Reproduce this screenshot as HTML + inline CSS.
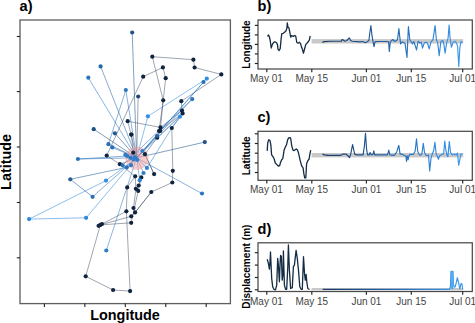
<!DOCTYPE html><html><head><meta charset="utf-8"><style>html,body{margin:0;padding:0;background:#fff;overflow:hidden}svg{display:block}text{font-family:"Liberation Sans",sans-serif}</style></head><body><svg width="475" height="323" viewBox="0 0 475 323">
<rect width="475" height="323" fill="#fff"/>
<line x1="152.3" y1="56.7" x2="193.4" y2="59.7" stroke="#2a3a55" stroke-opacity="0.5" stroke-width="0.9"/>
<line x1="193.4" y1="59.7" x2="194.6" y2="67.5" stroke="#2a3a55" stroke-opacity="0.5" stroke-width="0.9"/>
<line x1="194.6" y1="67.5" x2="221.3" y2="74.4" stroke="#2a3a55" stroke-opacity="0.5" stroke-width="0.9"/>
<line x1="221.3" y1="74.4" x2="181.3" y2="101.2" stroke="#2a3a55" stroke-opacity="0.5" stroke-width="0.9"/>
<line x1="152.3" y1="56.7" x2="163.2" y2="100.3" stroke="#2a3a55" stroke-opacity="0.5" stroke-width="0.9"/>
<line x1="143.2" y1="76.7" x2="162.9" y2="67.4" stroke="#2a3a55" stroke-opacity="0.5" stroke-width="0.9"/>
<line x1="162.9" y1="67.4" x2="165.7" y2="78.2" stroke="#2a3a55" stroke-opacity="0.5" stroke-width="0.9"/>
<line x1="165.7" y1="78.2" x2="163.2" y2="100.3" stroke="#2a3a55" stroke-opacity="0.5" stroke-width="0.9"/>
<line x1="143.2" y1="76.7" x2="106.7" y2="155.6" stroke="#2a3a55" stroke-opacity="0.5" stroke-width="0.9"/>
<line x1="163.2" y1="100.3" x2="160.5" y2="127.4" stroke="#2a3a55" stroke-opacity="0.5" stroke-width="0.9"/>
<line x1="163.2" y1="100.3" x2="159.0" y2="131.0" stroke="#2a3a55" stroke-opacity="0.5" stroke-width="0.9"/>
<line x1="181.3" y1="101.2" x2="182.0" y2="110.6" stroke="#2a3a55" stroke-opacity="0.5" stroke-width="0.9"/>
<line x1="182.0" y1="110.6" x2="160.5" y2="127.4" stroke="#2a3a55" stroke-opacity="0.5" stroke-width="0.9"/>
<line x1="182.6" y1="113.4" x2="159.0" y2="131.0" stroke="#2a3a55" stroke-opacity="0.5" stroke-width="0.9"/>
<line x1="182.6" y1="113.4" x2="157.2" y2="137.7" stroke="#2a3a55" stroke-opacity="0.5" stroke-width="0.9"/>
<line x1="138.2" y1="96.5" x2="136.7" y2="157.8" stroke="#2a3a55" stroke-opacity="0.5" stroke-width="0.9"/>
<line x1="127.7" y1="121.2" x2="131.2" y2="134.6" stroke="#2a3a55" stroke-opacity="0.5" stroke-width="0.9"/>
<line x1="131.2" y1="134.6" x2="136.7" y2="157.8" stroke="#2a3a55" stroke-opacity="0.5" stroke-width="0.9"/>
<line x1="160.2" y1="130.9" x2="157.2" y2="137.7" stroke="#2a3a55" stroke-opacity="0.5" stroke-width="0.9"/>
<line x1="171.8" y1="128.0" x2="172.8" y2="170.8" stroke="#2a3a55" stroke-opacity="0.5" stroke-width="0.9"/>
<line x1="171.8" y1="128.0" x2="182.6" y2="113.4" stroke="#2a3a55" stroke-opacity="0.5" stroke-width="0.9"/>
<line x1="127.7" y1="121.2" x2="160.5" y2="127.4" stroke="#2a3a55" stroke-opacity="0.5" stroke-width="0.9"/>
<line x1="172.8" y1="170.8" x2="172.3" y2="182.5" stroke="#2a3a55" stroke-opacity="0.5" stroke-width="0.9"/>
<line x1="172.3" y1="182.5" x2="151.3" y2="192.0" stroke="#2a3a55" stroke-opacity="0.5" stroke-width="0.9"/>
<line x1="151.3" y1="192.0" x2="135.1" y2="212.4" stroke="#2a3a55" stroke-opacity="0.5" stroke-width="0.9"/>
<line x1="154.1" y1="174.1" x2="144.9" y2="154.2" stroke="#2a3a55" stroke-opacity="0.5" stroke-width="0.9"/>
<line x1="135.2" y1="176.3" x2="135.9" y2="188.8" stroke="#2a3a55" stroke-opacity="0.5" stroke-width="0.9"/>
<line x1="141.3" y1="177.4" x2="138.2" y2="190.9" stroke="#2a3a55" stroke-opacity="0.5" stroke-width="0.9"/>
<line x1="138.7" y1="185.5" x2="141.3" y2="177.4" stroke="#2a3a55" stroke-opacity="0.5" stroke-width="0.9"/>
<line x1="127.2" y1="187.4" x2="135.2" y2="176.3" stroke="#2a3a55" stroke-opacity="0.5" stroke-width="0.9"/>
<line x1="119.9" y1="164.2" x2="106.7" y2="155.6" stroke="#2a3a55" stroke-opacity="0.5" stroke-width="0.9"/>
<line x1="119.9" y1="164.2" x2="135.2" y2="176.3" stroke="#2a3a55" stroke-opacity="0.5" stroke-width="0.9"/>
<line x1="119.9" y1="164.2" x2="136.7" y2="157.8" stroke="#2a3a55" stroke-opacity="0.5" stroke-width="0.9"/>
<line x1="133.5" y1="208.0" x2="135.9" y2="188.8" stroke="#2a3a55" stroke-opacity="0.5" stroke-width="0.9"/>
<line x1="126.4" y1="211.3" x2="100.4" y2="224.9" stroke="#2a3a55" stroke-opacity="0.5" stroke-width="0.9"/>
<line x1="131.2" y1="216.3" x2="100.4" y2="224.9" stroke="#2a3a55" stroke-opacity="0.5" stroke-width="0.9"/>
<line x1="131.2" y1="222.8" x2="100.4" y2="224.9" stroke="#2a3a55" stroke-opacity="0.5" stroke-width="0.9"/>
<line x1="100.4" y1="224.9" x2="85.7" y2="276.3" stroke="#2a3a55" stroke-opacity="0.5" stroke-width="0.9"/>
<line x1="85.7" y1="276.3" x2="113.1" y2="290.0" stroke="#2a3a55" stroke-opacity="0.5" stroke-width="0.9"/>
<line x1="113.1" y1="290.0" x2="130.1" y2="291.1" stroke="#2a3a55" stroke-opacity="0.5" stroke-width="0.9"/>
<line x1="130.1" y1="291.1" x2="126.4" y2="211.3" stroke="#2a3a55" stroke-opacity="0.5" stroke-width="0.9"/>
<line x1="133.5" y1="208.0" x2="135.1" y2="212.4" stroke="#2a3a55" stroke-opacity="0.5" stroke-width="0.9"/>
<line x1="135.1" y1="212.4" x2="131.2" y2="216.3" stroke="#2a3a55" stroke-opacity="0.5" stroke-width="0.9"/>
<line x1="127.2" y1="187.4" x2="126.4" y2="211.3" stroke="#2a3a55" stroke-opacity="0.5" stroke-width="0.9"/>
<line x1="131.4" y1="134.6" x2="133.2" y2="152.7" stroke="#2a3a55" stroke-opacity="0.5" stroke-width="0.9"/>
<line x1="144.9" y1="154.2" x2="154.1" y2="174.1" stroke="#2a3a55" stroke-opacity="0.5" stroke-width="0.9"/>
<line x1="157.2" y1="137.7" x2="144.9" y2="154.2" stroke="#2a3a55" stroke-opacity="0.5" stroke-width="0.9"/>
<line x1="135.1" y1="212.4" x2="151.3" y2="192.0" stroke="#2a3a55" stroke-opacity="0.5" stroke-width="0.9"/>
<line x1="138.2" y1="190.9" x2="131.2" y2="222.8" stroke="#2a3a55" stroke-opacity="0.5" stroke-width="0.9"/>
<line x1="132.2" y1="32.5" x2="136.7" y2="157.8" stroke="#215389" stroke-opacity="0.62" stroke-width="0.9"/>
<line x1="100.6" y1="66.4" x2="136.7" y2="157.8" stroke="#2767a7" stroke-opacity="0.62" stroke-width="0.9"/>
<line x1="88.3" y1="77.7" x2="136.7" y2="157.8" stroke="#2b76bf" stroke-opacity="0.62" stroke-width="0.9"/>
<line x1="125.8" y1="90.0" x2="136.7" y2="157.8" stroke="#2b76bf" stroke-opacity="0.62" stroke-width="0.9"/>
<line x1="125.8" y1="90.0" x2="108.4" y2="144.2" stroke="#2b76bf" stroke-opacity="0.62" stroke-width="0.9"/>
<line x1="147.9" y1="116.3" x2="136.7" y2="157.8" stroke="#328ee4" stroke-opacity="0.62" stroke-width="0.9"/>
<line x1="93.7" y1="129.2" x2="136.7" y2="157.8" stroke="#1f4e81" stroke-opacity="0.62" stroke-width="0.9"/>
<line x1="114.9" y1="133.3" x2="136.7" y2="157.8" stroke="#235992" stroke-opacity="0.62" stroke-width="0.9"/>
<line x1="147.9" y1="116.3" x2="206.8" y2="78.6" stroke="#328ee4" stroke-opacity="0.62" stroke-width="0.9"/>
<line x1="206.8" y1="78.6" x2="136.7" y2="157.8" stroke="#328ee4" stroke-opacity="0.62" stroke-width="0.9"/>
<line x1="203.5" y1="82.0" x2="136.7" y2="157.8" stroke="#2a70b6" stroke-opacity="0.62" stroke-width="0.9"/>
<line x1="192.2" y1="99.1" x2="136.7" y2="157.8" stroke="#2b76bf" stroke-opacity="0.62" stroke-width="0.9"/>
<line x1="192.2" y1="99.1" x2="122.6" y2="165.3" stroke="#2b76bf" stroke-opacity="0.62" stroke-width="0.9"/>
<line x1="179.9" y1="116.7" x2="136.7" y2="157.8" stroke="#328ee4" stroke-opacity="0.62" stroke-width="0.9"/>
<line x1="204.8" y1="142.1" x2="136.7" y2="157.8" stroke="#215389" stroke-opacity="0.62" stroke-width="0.9"/>
<line x1="77.9" y1="159.0" x2="136.7" y2="157.8" stroke="#2a70b6" stroke-opacity="0.62" stroke-width="0.9"/>
<line x1="77.9" y1="159.0" x2="127.4" y2="156.0" stroke="#2a70b6" stroke-opacity="0.62" stroke-width="0.9"/>
<line x1="70.3" y1="179.3" x2="126.8" y2="167.3" stroke="#245f9b" stroke-opacity="0.62" stroke-width="0.9"/>
<line x1="70.3" y1="179.3" x2="92.6" y2="196.8" stroke="#245f9b" stroke-opacity="0.62" stroke-width="0.9"/>
<line x1="92.6" y1="196.8" x2="136.7" y2="157.8" stroke="#2a70b6" stroke-opacity="0.62" stroke-width="0.9"/>
<line x1="29.1" y1="219.1" x2="86.1" y2="217.8" stroke="#3188db" stroke-opacity="0.62" stroke-width="0.9"/>
<line x1="29.1" y1="219.1" x2="106.0" y2="180.6" stroke="#3188db" stroke-opacity="0.62" stroke-width="0.9"/>
<line x1="106.0" y1="180.6" x2="136.7" y2="157.8" stroke="#328ee4" stroke-opacity="0.62" stroke-width="0.9"/>
<line x1="86.1" y1="217.8" x2="136.7" y2="157.8" stroke="#3188db" stroke-opacity="0.62" stroke-width="0.9"/>
<line x1="106.3" y1="250.5" x2="136.7" y2="157.8" stroke="#2d7cc8" stroke-opacity="0.62" stroke-width="0.9"/>
<line x1="202.0" y1="193.5" x2="136.7" y2="157.8" stroke="#2b76bf" stroke-opacity="0.62" stroke-width="0.9"/>
<line x1="112.3" y1="147.4" x2="136.7" y2="157.8" stroke="#2a70b6" stroke-opacity="0.62" stroke-width="0.9"/>
<line x1="108.4" y1="144.2" x2="136.7" y2="157.8" stroke="#2a70b6" stroke-opacity="0.62" stroke-width="0.9"/>
<line x1="143.5" y1="173.0" x2="136.7" y2="157.8" stroke="#2d7cc8" stroke-opacity="0.62" stroke-width="0.9"/>
<line x1="146.9" y1="167.9" x2="136.7" y2="157.8" stroke="#2f82d2" stroke-opacity="0.62" stroke-width="0.9"/>
<line x1="139.7" y1="180.2" x2="136.7" y2="157.8" stroke="#2f82d2" stroke-opacity="0.62" stroke-width="0.9"/>
<line x1="142.4" y1="151.0" x2="136.7" y2="157.8" stroke="#2f82d2" stroke-opacity="0.62" stroke-width="0.9"/>
<line x1="157.0" y1="136.0" x2="136.7" y2="157.8" stroke="#2664a4" stroke-opacity="0.62" stroke-width="0.9"/>
<line x1="179.9" y1="116.7" x2="171.8" y2="128.0" stroke="#328ee4" stroke-opacity="0.62" stroke-width="0.9"/>
<line x1="146.9" y1="167.9" x2="171.8" y2="128.0" stroke="#2f82d2" stroke-opacity="0.62" stroke-width="0.9"/>
<circle cx="136.9" cy="158.2" r="11.6" fill="#f09a9a" fill-opacity="0.5"/>
<circle cx="152.3" cy="56.7" r="2.1" fill="#102440"/>
<circle cx="193.4" cy="59.7" r="2.1" fill="#102440"/>
<circle cx="194.6" cy="67.5" r="2.1" fill="#102440"/>
<circle cx="221.3" cy="74.4" r="2.1" fill="#102440"/>
<circle cx="162.9" cy="67.4" r="2.1" fill="#102440"/>
<circle cx="143.2" cy="76.7" r="2.1" fill="#102440"/>
<circle cx="165.7" cy="78.2" r="2.1" fill="#102440"/>
<circle cx="163.2" cy="100.3" r="2.1" fill="#102440"/>
<circle cx="181.3" cy="101.2" r="2.1" fill="#102440"/>
<circle cx="182.0" cy="110.6" r="2.1" fill="#102440"/>
<circle cx="182.6" cy="113.4" r="2.1" fill="#102440"/>
<circle cx="127.7" cy="121.2" r="2.1" fill="#102440"/>
<circle cx="131.2" cy="134.6" r="2.1" fill="#102440"/>
<circle cx="160.5" cy="127.4" r="2.1" fill="#102440"/>
<circle cx="159.0" cy="131.0" r="2.1" fill="#102440"/>
<circle cx="171.8" cy="128.0" r="2.1" fill="#102440"/>
<circle cx="157.2" cy="137.7" r="2.1" fill="#102440"/>
<circle cx="106.7" cy="155.6" r="2.1" fill="#102440"/>
<circle cx="119.9" cy="164.2" r="2.1" fill="#102440"/>
<circle cx="133.2" cy="152.7" r="2.1" fill="#102440"/>
<circle cx="144.9" cy="154.2" r="2.1" fill="#102440"/>
<circle cx="135.2" cy="176.3" r="2.1" fill="#102440"/>
<circle cx="141.3" cy="177.4" r="2.1" fill="#102440"/>
<circle cx="154.1" cy="174.1" r="2.1" fill="#102440"/>
<circle cx="172.8" cy="170.8" r="2.1" fill="#102440"/>
<circle cx="172.3" cy="182.5" r="2.1" fill="#102440"/>
<circle cx="151.3" cy="192.0" r="2.1" fill="#102440"/>
<circle cx="127.2" cy="187.4" r="2.1" fill="#102440"/>
<circle cx="135.9" cy="188.8" r="2.1" fill="#102440"/>
<circle cx="138.2" cy="190.9" r="2.1" fill="#102440"/>
<circle cx="138.7" cy="185.5" r="2.1" fill="#102440"/>
<circle cx="133.5" cy="208.0" r="2.1" fill="#102440"/>
<circle cx="126.4" cy="211.3" r="2.1" fill="#102440"/>
<circle cx="135.1" cy="212.4" r="2.1" fill="#102440"/>
<circle cx="131.2" cy="216.3" r="2.1" fill="#102440"/>
<circle cx="131.2" cy="222.8" r="2.1" fill="#102440"/>
<circle cx="100.4" cy="224.9" r="2.1" fill="#102440"/>
<circle cx="98.6" cy="225.8" r="2.1" fill="#102440"/>
<circle cx="102.0" cy="224.0" r="2.1" fill="#102440"/>
<circle cx="85.7" cy="276.3" r="2.1" fill="#102440"/>
<circle cx="113.1" cy="290.0" r="2.1" fill="#102440"/>
<circle cx="130.1" cy="291.1" r="2.1" fill="#102440"/>
<circle cx="160.2" cy="130.9" r="2.1" fill="#102440"/>
<circle cx="131.4" cy="134.6" r="2.1" fill="#102440"/>
<circle cx="132.2" cy="32.5" r="2.1" fill="#215389"/>
<circle cx="138.2" cy="96.5" r="2.1" fill="#1d4878"/>
<circle cx="100.6" cy="66.4" r="2.1" fill="#2767a7"/>
<circle cx="88.3" cy="77.7" r="2.1" fill="#2b76bf"/>
<circle cx="125.8" cy="90.0" r="2.1" fill="#2b76bf"/>
<circle cx="147.9" cy="116.3" r="2.1" fill="#328ee4"/>
<circle cx="93.7" cy="129.2" r="2.1" fill="#1f4e81"/>
<circle cx="114.9" cy="133.3" r="2.1" fill="#235992"/>
<circle cx="108.4" cy="144.2" r="2.1" fill="#2a70b6"/>
<circle cx="112.3" cy="147.4" r="2.1" fill="#2a70b6"/>
<circle cx="206.8" cy="78.6" r="2.1" fill="#328ee4"/>
<circle cx="203.5" cy="82.0" r="2.1" fill="#2a70b6"/>
<circle cx="192.2" cy="99.1" r="2.1" fill="#2b76bf"/>
<circle cx="179.9" cy="116.7" r="2.1" fill="#328ee4"/>
<circle cx="204.8" cy="142.1" r="2.1" fill="#215389"/>
<circle cx="77.9" cy="159.0" r="2.1" fill="#2a70b6"/>
<circle cx="70.3" cy="179.3" r="2.1" fill="#245f9b"/>
<circle cx="106.0" cy="180.6" r="2.1" fill="#328ee4"/>
<circle cx="92.6" cy="196.8" r="2.1" fill="#2a70b6"/>
<circle cx="29.1" cy="219.1" r="2.1" fill="#3188db"/>
<circle cx="86.1" cy="217.8" r="2.1" fill="#3188db"/>
<circle cx="106.3" cy="250.5" r="2.1" fill="#2d7cc8"/>
<circle cx="202.0" cy="193.5" r="2.1" fill="#2b76bf"/>
<circle cx="127.4" cy="156.0" r="2.1" fill="#2d7cc8"/>
<circle cx="134.8" cy="157.3" r="2.1" fill="#2d7cc8"/>
<circle cx="142.4" cy="151.0" r="2.1" fill="#2f82d2"/>
<circle cx="126.8" cy="167.3" r="2.1" fill="#2a70b6"/>
<circle cx="131.0" cy="165.2" r="2.1" fill="#2d7cc8"/>
<circle cx="143.5" cy="173.0" r="2.1" fill="#2d7cc8"/>
<circle cx="146.9" cy="167.9" r="2.1" fill="#2f82d2"/>
<circle cx="139.7" cy="180.2" r="2.1" fill="#2f82d2"/>
<circle cx="122.6" cy="165.3" r="2.1" fill="#2a70b6"/>
<circle cx="130.5" cy="157.8" r="2.1" fill="#2b76bf"/>
<circle cx="137.2" cy="159.8" r="2.1" fill="#2d7cc8"/>
<circle cx="125.3" cy="154.8" r="2.1" fill="#2d7cc8"/>
<circle cx="133.5" cy="159.5" r="2.1" fill="#2f82d2"/>
<circle cx="157.0" cy="136.0" r="2.1" fill="#2664a4"/>
<rect x="20.0" y="20.0" width="210.4" height="283.6" fill="none" stroke="#5e5e5e" stroke-width="1.3"/>
<line x1="16.8" y1="36.5" x2="20.0" y2="36.5" stroke="#222" stroke-width="1.1"/>
<line x1="16.8" y1="91.6" x2="20.0" y2="91.6" stroke="#222" stroke-width="1.1"/>
<line x1="16.8" y1="147.0" x2="20.0" y2="147.0" stroke="#222" stroke-width="1.1"/>
<line x1="16.8" y1="202.5" x2="20.0" y2="202.5" stroke="#222" stroke-width="1.1"/>
<line x1="16.8" y1="257.8" x2="20.0" y2="257.8" stroke="#222" stroke-width="1.1"/>
<line x1="44.4" y1="303.6" x2="44.4" y2="307" stroke="#222" stroke-width="1.1"/>
<line x1="84.85" y1="303.6" x2="84.85" y2="307" stroke="#222" stroke-width="1.1"/>
<line x1="125.3" y1="303.6" x2="125.3" y2="307" stroke="#222" stroke-width="1.1"/>
<line x1="165.75" y1="303.6" x2="165.75" y2="307" stroke="#222" stroke-width="1.1"/>
<line x1="206.2" y1="303.6" x2="206.2" y2="307" stroke="#222" stroke-width="1.1"/>
<text x="19.6" y="10.9" font-family="Liberation Sans" font-weight="bold" font-size="14.6" fill="#000">a)</text>
<text x="125" y="319.5" text-anchor="middle" font-family="Liberation Sans" font-weight="bold" font-size="14.4" fill="#000">Longitude</text>
<text transform="translate(10.9,161.9) rotate(-90)" text-anchor="middle" font-family="Liberation Sans" font-weight="bold" font-size="14.4" fill="#000">Latitude</text>
<defs><linearGradient id="g" gradientUnits="userSpaceOnUse" x1="266" y1="0" x2="463" y2="0"><stop offset="0" stop-color="#132B43"/><stop offset="0.3" stop-color="#183a66"/><stop offset="0.6" stop-color="#2361a6"/><stop offset="0.8" stop-color="#2e80d2"/><stop offset="1" stop-color="#3a98ee"/></linearGradient></defs>
<rect x="311.6" y="39.1" width="151.6" height="4.4" fill="#c8c8c8"/>
<polyline points="267.5,36.4 268.5,35 269.5,37.1 270.2,40.5 271.2,48 272.3,44.6 273.6,42.3 275,41.9 276.4,42.5 277.5,44.6 278,49.4 279.1,50.5 280.2,48.7 281.1,39.1 281.8,33.7 283.2,33.3 284.5,32.3 285.9,31 286.9,28.2 287.3,22.8 288,27.3 288.9,27.8 289.7,31.6 290.7,37.1 291.6,35.7 293.4,36.4 294.8,35.5 295.7,36 296.8,42.5 298.2,43.2 299.5,42.3 300.6,43.6 301.6,47.3 302.5,49.6 303.4,53.2 304.3,50 305.7,44.6 307,43.2 308.4,41.5 309.4,39.8 310.2,36" fill="none" stroke="#132B43" stroke-width="1.3" stroke-linejoin="round"/>
<polyline points="322.3,42.5 324,41.6 330,41.3 341.4,41.2 342,39.5 343.4,40.1 344.8,41.2 346.8,40.5 349.3,37.8 350.6,40.5 352.3,41.2 360,41.9 362.7,41.5 365.2,42.8 366.8,41.9 368.9,40.5 369.8,33 370.9,25.5 372,35.7 373,41.5 374,46.6 375,41.9 377.7,41.5 387.3,41.5 388.6,41.9 389.3,51.4 390.3,41.9 392.7,39.5 394.8,41.5 397.5,39.8 398.9,28.6 399.8,37.1 400.6,43.9 402.3,41.9 405,43.2 407,57.5 407.7,41.9 408.4,26.5 409.8,39.8 412.5,43.9 413.9,41.5 416.6,50 418,41.5 418.5,41.4 419.7,43.1 421.4,42.2 422.5,48.1 424.2,43.1 425.9,42.2 427.5,43.1 429.2,48.9 430.9,42.2 433,39.7 434.2,31.4 435.1,25.5 436.4,39.7 437.6,42.2 439.2,55.6 440.9,41.4 442.6,40.6 443.7,43.1 445.1,53.1 446.8,42.2 448.1,38.1 449.1,25 450.1,38.1 451.4,47.2 453.1,42.2 455.1,41.4 456.5,43.1 457.6,46.4 458.8,66.5 459.8,48.1 461,41.4 462.6,42.7" fill="none" stroke="url(#g)" stroke-width="1.15" stroke-linejoin="round"/>
<rect x="258.0" y="20.0" width="214.3" height="49.0" fill="none" stroke="#4a4a4a" stroke-width="1.25"/>
<line x1="254.8" y1="25.4" x2="258" y2="25.4" stroke="#222" stroke-width="1.15"/>
<line x1="254.8" y1="34.9" x2="258" y2="34.9" stroke="#222" stroke-width="1.15"/>
<line x1="254.8" y1="44.4" x2="258" y2="44.4" stroke="#222" stroke-width="1.15"/>
<line x1="254.8" y1="53.9" x2="258" y2="53.9" stroke="#222" stroke-width="1.15"/>
<line x1="254.8" y1="63.5" x2="258" y2="63.5" stroke="#222" stroke-width="1.15"/>
<line x1="266.8" y1="69.0" x2="266.8" y2="72.3" stroke="#222" stroke-width="1.15"/>
<line x1="311.8" y1="69.0" x2="311.8" y2="72.3" stroke="#222" stroke-width="1.15"/>
<line x1="366.4" y1="69.0" x2="366.4" y2="72.3" stroke="#222" stroke-width="1.15"/>
<line x1="411.3" y1="69.0" x2="411.3" y2="72.3" stroke="#222" stroke-width="1.15"/>
<line x1="462.7" y1="69.0" x2="462.7" y2="72.3" stroke="#222" stroke-width="1.15"/>
<text x="266.4" y="82.1" text-anchor="middle" font-family="Liberation Sans" font-size="10" fill="#444">May 01</text>
<text x="311.8" y="82.1" text-anchor="middle" font-family="Liberation Sans" font-size="10" fill="#444">May 15</text>
<text x="366.4" y="82.1" text-anchor="middle" font-family="Liberation Sans" font-size="10" fill="#444">Jun 01</text>
<text x="411.3" y="82.1" text-anchor="middle" font-family="Liberation Sans" font-size="10" fill="#444">Jun 15</text>
<text x="462.7" y="82.1" text-anchor="middle" font-family="Liberation Sans" font-size="10" fill="#444">Jul 01</text>
<text x="257.5" y="10.8" font-family="Liberation Sans" font-weight="bold" font-size="14.6" fill="#000">b)</text>
<text transform="translate(250.4,44.5) rotate(-90)" text-anchor="middle" font-family="Liberation Sans" font-weight="bold" font-size="10" fill="#000">Longitude</text>
<rect x="311.6" y="153.0" width="151.6" height="4.4" fill="#c8c8c8"/>
<polyline points="267.2,150.9 267.7,142.9 268.8,139.7 270,140.5 270.9,145.3 271.6,154.9 272.9,156.5 274.2,159 275.3,163 276.9,164.6 278.5,166.2 279.6,165.7 280.6,162.2 281.7,159.8 282.8,158.6 284.1,150.1 285.4,146.9 286.5,144.8 287.7,139.7 289,137.7 290.6,138 291.8,146.1 293,150.1 294.1,150.6 296.2,149 297.5,150.1 298.6,153.3 300.2,160.6 301.8,166.2 303.1,167.8 303.8,173.4 304.7,177.9 305.8,177.9 306.6,163.8 307.9,160.6 309.1,159 309.9,154.1 310.7,150.1" fill="none" stroke="#132B43" stroke-width="1.3" stroke-linejoin="round"/>
<polyline points="322.5,154.1 324.5,154.9 327.7,155.4 340.6,155.4 343,154.1 346.2,154.1 348.6,156.5 349.4,157.7 350.5,154.9 351.5,150.1 352.6,144.5 353.8,150.1 354.7,154.1 356.6,154.9 363.1,154.9 364.4,146.1 365.5,133.2 366.6,149.3 367.6,154.9 369,154.9 370.1,152.5 371.1,154.9 373,154.4 373.8,150.9 374.7,154.9 387.5,154.9 388.8,150.1 389.9,154.9 393.1,155.4 394.8,154.9 396.8,151.7 398.8,145.3 400.1,154.1 402,154.1 404.4,155.4 406,156.5 406.5,161.4 407.1,155.7 408.1,159.8 408.8,156.1 410,154.4 413.3,154.4 415.2,150.9 416.5,138.8 417.8,151.7 418.9,154.1 420.2,155.4 421.9,154 423.3,143.3 424.5,152.3 425.7,154.9 427.1,155.7 428.5,154.9 429.7,171 431,158.3 432.3,154 433.7,150.5 434.9,142.2 436.2,154 437.5,156.6 438.4,159.2 439.6,155.7 441.9,154.4 443.6,154 444.8,141 445.9,150.5 447.1,155.7 447.9,156.6 449.3,141.5 450.5,152.3 452.3,154.9 454,154 456.3,154.9 457.5,153.1 458.7,165.3 460.1,158.3 460.9,154 462.7,154.4" fill="none" stroke="url(#g)" stroke-width="1.15" stroke-linejoin="round"/>
<rect x="258.0" y="131.3" width="214.3" height="49.0" fill="none" stroke="#4a4a4a" stroke-width="1.25"/>
<line x1="254.8" y1="133.8" x2="258" y2="133.8" stroke="#222" stroke-width="1.15"/>
<line x1="254.8" y1="143.5" x2="258" y2="143.5" stroke="#222" stroke-width="1.15"/>
<line x1="254.8" y1="153.2" x2="258" y2="153.2" stroke="#222" stroke-width="1.15"/>
<line x1="254.8" y1="162.9" x2="258" y2="162.9" stroke="#222" stroke-width="1.15"/>
<line x1="254.8" y1="172.5" x2="258" y2="172.5" stroke="#222" stroke-width="1.15"/>
<line x1="266.8" y1="180.3" x2="266.8" y2="183.6" stroke="#222" stroke-width="1.15"/>
<line x1="311.8" y1="180.3" x2="311.8" y2="183.6" stroke="#222" stroke-width="1.15"/>
<line x1="366.4" y1="180.3" x2="366.4" y2="183.6" stroke="#222" stroke-width="1.15"/>
<line x1="411.3" y1="180.3" x2="411.3" y2="183.6" stroke="#222" stroke-width="1.15"/>
<line x1="462.7" y1="180.3" x2="462.7" y2="183.6" stroke="#222" stroke-width="1.15"/>
<text x="266.4" y="193.4" text-anchor="middle" font-family="Liberation Sans" font-size="10" fill="#444">May 01</text>
<text x="311.8" y="193.4" text-anchor="middle" font-family="Liberation Sans" font-size="10" fill="#444">May 15</text>
<text x="366.4" y="193.4" text-anchor="middle" font-family="Liberation Sans" font-size="10" fill="#444">Jun 01</text>
<text x="411.3" y="193.4" text-anchor="middle" font-family="Liberation Sans" font-size="10" fill="#444">Jun 15</text>
<text x="462.7" y="193.4" text-anchor="middle" font-family="Liberation Sans" font-size="10" fill="#444">Jul 01</text>
<text x="257.5" y="122.1" font-family="Liberation Sans" font-weight="bold" font-size="14.6" fill="#000">c)</text>
<text transform="translate(250.4,155.8) rotate(-90)" text-anchor="middle" font-family="Liberation Sans" font-weight="bold" font-size="10" fill="#000">Latitude</text>
<rect x="311.6" y="288.0" width="151.6" height="2.3" fill="#c8c8c8"/>
<polyline points="267.2,259.2 268.4,263.4 269.4,269.2 270,261.7 270.5,252 271,263.4 271.7,278.4 272.7,286.8 273.9,289.3 275.5,289.8 276.7,285.1 277.7,258.4 278.4,265.1 279.4,281.8 280.1,263.4 280.6,255.4 281.4,256.7 282.2,280.1 283.1,273.4 283.4,250.9 284.4,285.1 285.6,289.3 286.7,289.3 287.8,266.7 288.4,245 289.4,270.1 290.6,288.5 292.3,287.6 293.4,266.7 294.4,265.1 296.1,250.4 297.3,258.4 298.4,269.2 299.8,286.8 301.1,289.3 302.3,289.3 303.5,256.7 304.5,273.4 305.3,280.1 306.1,274.3 306.8,281.8 307.8,288.5 309.5,289.5" fill="none" stroke="#132B43" stroke-width="1.3" stroke-linejoin="round"/>
<polyline points="322.7,289.3 449.1,289.4 450.4,287.2 451,271.4 452.9,271.4 453.5,285.3 454.8,287.2 456,284 457.3,277.7 458.6,282.7 459.8,289 461.1,283.4 462,284 462.7,289.5" fill="none" stroke="url(#g)" stroke-width="1.15" stroke-linejoin="round"/>
<rect x="450.7" y="271.3" width="2.8" height="18" fill="#53acf0"/>
<rect x="258.0" y="242.8" width="214.3" height="48.7" fill="none" stroke="#4a4a4a" stroke-width="1.25"/>
<line x1="254.8" y1="252.7" x2="258" y2="252.7" stroke="#222" stroke-width="1.15"/>
<line x1="254.8" y1="265.1" x2="258" y2="265.1" stroke="#222" stroke-width="1.15"/>
<line x1="254.8" y1="277.5" x2="258" y2="277.5" stroke="#222" stroke-width="1.15"/>
<line x1="254.8" y1="289.8" x2="258" y2="289.8" stroke="#222" stroke-width="1.15"/>
<line x1="266.8" y1="291.5" x2="266.8" y2="294.8" stroke="#222" stroke-width="1.15"/>
<line x1="311.8" y1="291.5" x2="311.8" y2="294.8" stroke="#222" stroke-width="1.15"/>
<line x1="366.4" y1="291.5" x2="366.4" y2="294.8" stroke="#222" stroke-width="1.15"/>
<line x1="411.3" y1="291.5" x2="411.3" y2="294.8" stroke="#222" stroke-width="1.15"/>
<line x1="462.7" y1="291.5" x2="462.7" y2="294.8" stroke="#222" stroke-width="1.15"/>
<text x="266.4" y="305.0" text-anchor="middle" font-family="Liberation Sans" font-size="10" fill="#444">May 01</text>
<text x="311.8" y="305.0" text-anchor="middle" font-family="Liberation Sans" font-size="10" fill="#444">May 15</text>
<text x="366.4" y="305.0" text-anchor="middle" font-family="Liberation Sans" font-size="10" fill="#444">Jun 01</text>
<text x="411.3" y="305.0" text-anchor="middle" font-family="Liberation Sans" font-size="10" fill="#444">Jun 15</text>
<text x="462.7" y="305.0" text-anchor="middle" font-family="Liberation Sans" font-size="10" fill="#444">Jul 01</text>
<text x="257.5" y="234.1" font-family="Liberation Sans" font-weight="bold" font-size="14.6" fill="#000">d)</text>
<text transform="translate(250.4,266.6) rotate(-90)" text-anchor="middle" font-family="Liberation Sans" font-weight="bold" font-size="10.1" fill="#000">Displacement (m)</text>
</svg></body></html>
